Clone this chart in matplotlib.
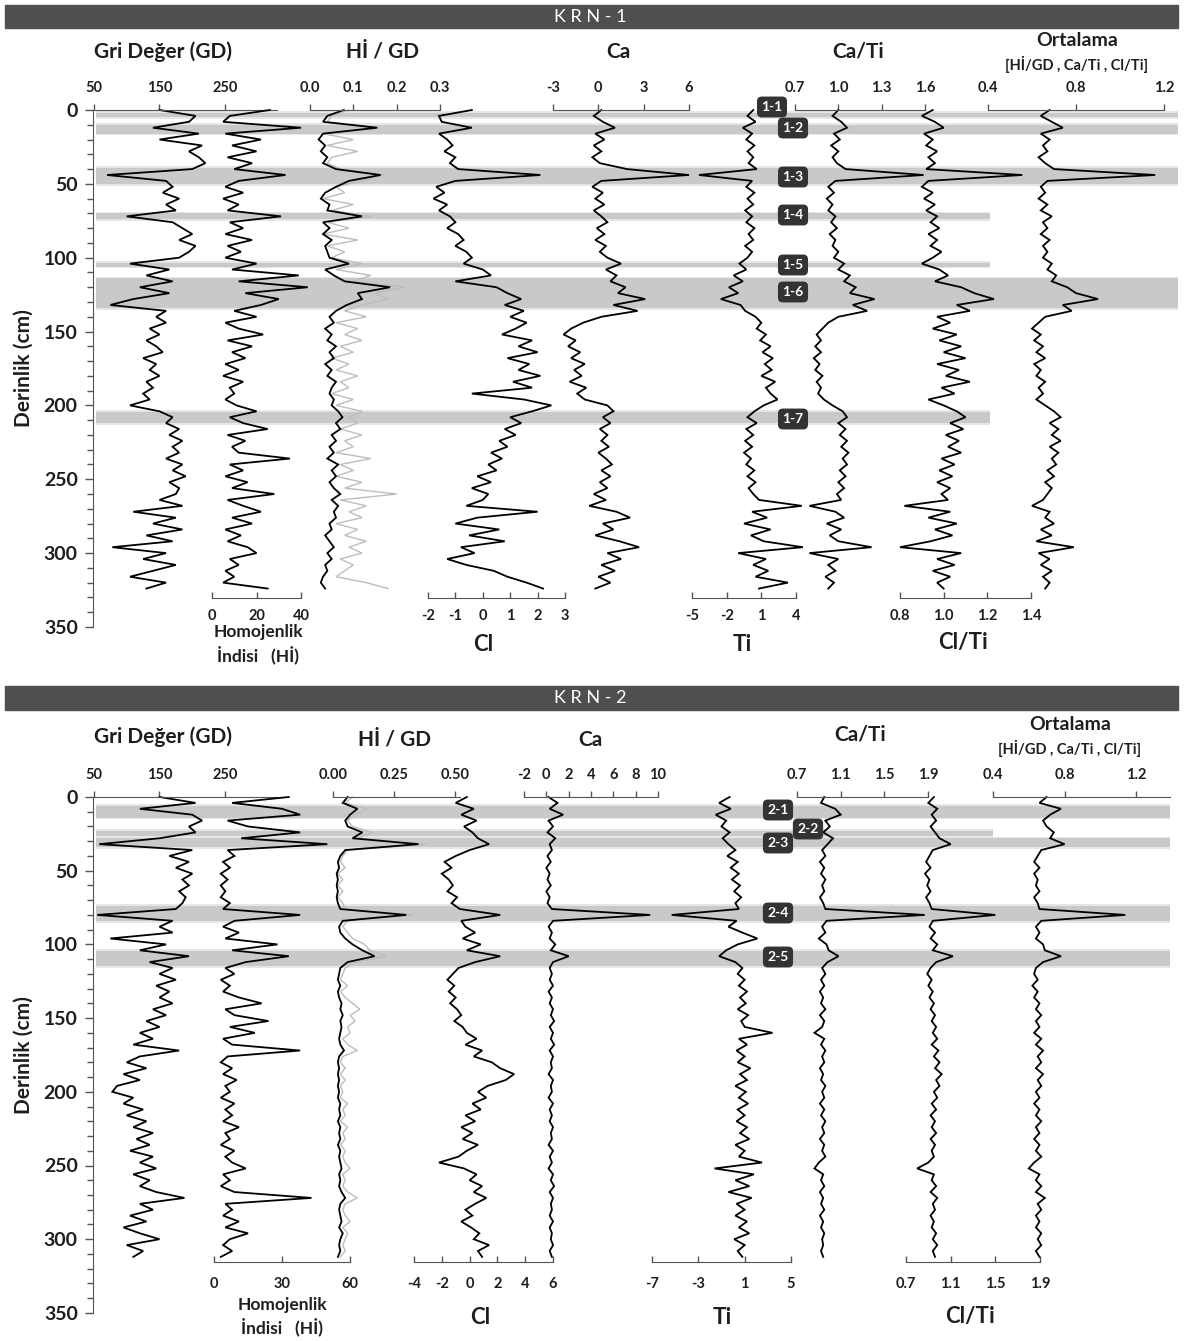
import numpy as np
import matplotlib.pyplot as plt
from matplotlib.patches import Rectangle
from matplotlib.ticker import FormatStrFormatter, MultipleLocator

plt.rcParams['font.family'] = ['Lato', 'DejaVu Sans']

W, H = 1185, 1341

# ---------------- KRN-1 data (one sample every 4 cm) ----------------
depth1 = np.arange(0, 325, 4)

gd1 = [150, 205, 195, 140, 210, 150, 215, 195, 210, 220,
       200, 70, 160, 170, 155, 180, 160, 175, 100, 170,
       185, 200, 180, 205, 195, 180, 105, 165, 130, 170,
       120, 165, 110, 75, 160, 145, 160, 135, 150, 130,
       145, 155, 125, 145, 135, 150, 130, 140, 125, 135,
       105, 150, 170, 160, 180, 165, 185, 170, 180, 160,
       185, 170, 190, 165, 180, 175, 150, 185, 110, 175,
       140, 185, 130, 170, 78, 160, 125, 175, 140, 105,
       160, 130]

hi1 = [26, 8, 5, 40, 6, 22, 9, 20, 7, 18,
       10, 33, 12, 6, 14, 5, 12, 7, 31, 8,
       14, 6, 18, 7, 13, 6, 20, 9, 39, 12,
       43, 15, 30, 22, 10, 20, 6, 12, 23, 7,
       18, 9, 15, 6, 12, 5, 14, 8, 10, 6,
       11, 20, 8, 14, 25, 7, 15, 9, 12, 35,
       8, 14, 6, 16, 9, 28, 7, 14, 22, 9,
       18, 6, 13, 7, 16, 20, 8, 12, 6, 10,
       5, 25]

higd1 = [0.078, 0.04, 0.03, 0.155, 0.03, 0.02, 0.035, 0.025, 0.04, 0.03,
         0.06, 0.163, 0.09, 0.06, 0.035, 0.025, 0.045, 0.04, 0.12, 0.03,
         0.045, 0.03, 0.05, 0.035, 0.04, 0.045, 0.09, 0.035, 0.055, 0.08,
         0.185, 0.11, 0.12, 0.085, 0.06, 0.045, 0.055, 0.035, 0.05, 0.04,
         0.06, 0.045, 0.055, 0.035, 0.05, 0.04, 0.06, 0.05, 0.045, 0.055,
         0.05, 0.065, 0.075, 0.06, 0.07, 0.05, 0.06, 0.045, 0.055, 0.04,
         0.065, 0.05, 0.06, 0.045, 0.055, 0.07, 0.05, 0.065, 0.055, 0.06,
         0.045, 0.05, 0.035, 0.045, 0.055, 0.04, 0.05, 0.035, 0.04, 0.03,
         0.025, 0.035]

higd1_raw = [0.09, 0.05, 0.04, 0.16, 0.03, 0.10, 0.04, 0.11, 0.05, 0.04,
             0.07, 0.17, 0.12, 0.06, 0.08, 0.03, 0.10, 0.05, 0.14, 0.04,
             0.09, 0.03, 0.11, 0.04, 0.08, 0.05, 0.12, 0.06, 0.14, 0.10,
             0.22, 0.15, 0.18, 0.12, 0.08, 0.13, 0.06, 0.11, 0.08, 0.12,
             0.07, 0.10, 0.05, 0.09, 0.06, 0.11, 0.07, 0.09, 0.05, 0.10,
             0.06, 0.12, 0.09, 0.11, 0.07, 0.12, 0.08, 0.10, 0.06, 0.14,
             0.07, 0.10, 0.06, 0.12, 0.08, 0.20, 0.07, 0.13, 0.09, 0.12,
             0.06, 0.11, 0.08, 0.13, 0.09, 0.12, 0.07, 0.10, 0.08, 0.06,
             0.13, 0.18]

cl1 = [-0.4, -1.6, -1.5, -0.4, -1.6, -1.3, -1.1, -1.4, -1.0, -1.2,
       -0.9, 2.1, -1.0, -1.7, -1.4, -1.8, -1.3, -1.6, -1.2, -1.0,
       -1.3, -0.9, -0.7, -1.0, -0.6, -0.4, -0.7, 0.0, 0.3, -1.0,
       0.5, 0.9, 1.4, 0.8, 1.5, 1.0, 1.6, 1.2, 0.7, 1.8,
       1.3, 2.0, 0.9, 1.7, 1.3, 2.1, 1.1, 1.8, -0.4, 1.5,
       2.5, 1.8, 1.0, 1.4, 0.8, 1.2, 0.6, 0.9, 0.3, 0.7,
       0.2, 0.5, -0.2, 0.3, -0.4, 0.2, 0.0, -0.6, 2.0, -0.2,
       -1.0, 0.6, -0.5, 0.8, -0.8, -0.3, -1.3, -0.6, 0.4, 0.9,
       1.6, 2.2]

ca1 = [0.2, -0.3, 0.3, 1.1, -0.2, 0.4, -0.3, 0.2, -0.4, 0.1,
       1.9, 6.0, 0.2, -0.4, 0.3, -0.2, 0.4, -0.3, 0.2, 0.6,
       -0.1, 0.4, -0.2, 0.5, 0.1, 0.6, 1.5, 0.5, 1.2, 0.8,
       1.8, 1.3, 3.1, 1.0, 2.6, 0.2, -1.0, -1.8, -2.3, -1.5,
       -2.0, -1.2, -1.8, -0.9, -1.6, -1.1, -1.9, -0.8, -1.4, -0.9,
       0.6, 1.0, 0.3, 0.8, 0.1, 0.6, 0.2, 0.7, 0.0, 0.5,
       0.9, 0.2, 0.8, 0.1, 0.6, -0.3, 0.5, -0.6, 1.2, 2.1,
       0.3, 1.0, -0.2, 1.4, 2.7, 0.6, 1.5, 0.2, 1.1, 0.0,
       0.8, -0.2]

ti1 = [0.3, -0.2, 0.5, -0.6, 0.2, -0.3, 0.4, -0.2, 0.3, -0.1,
       0.6, -4.4, 0.2, -0.3, 0.4, -0.2, 0.3, -0.4, 0.2, -0.3,
       0.4, -0.1, 0.3, -0.4, 0.2, -0.2, -0.9, -0.3, -1.4, -0.6,
       -1.8, -1.0, -2.5, -0.8, -0.4, 0.5, 1.0, 0.6, 1.4, 0.9,
       1.8, 1.1, 2.0, 1.3, 1.9, 1.0, 2.2, 1.4, 1.8, 2.4,
       1.2, 0.4, -0.2, 0.6, -0.3, 0.3, -0.4, 0.2, -0.5, 0.1,
       -0.3, 0.4, -0.2, 0.5, -0.1, 0.3, 0.8, 4.5, 0.2, 1.5,
       -0.5, 1.8, 0.1, 1.2, 4.6, -1.0, 1.4, 0.3, 1.6, 0.5,
       3.3, 0.8]

cati1 = [1.00, 0.96, 1.02, 1.06, 0.97, 1.01, 0.95, 1.00, 0.96, 0.99,
         1.05, 1.59, 0.98, 0.93, 0.97, 0.92, 0.96, 0.93, 0.98, 0.95,
         0.99, 0.94, 0.98, 0.96, 1.00, 0.97, 1.04, 1.00, 1.08, 1.04,
         1.12, 1.08, 1.25, 1.10, 1.20, 1.00, 0.93, 0.89, 0.85, 0.88,
         0.84, 0.88, 0.83, 0.87, 0.84, 0.89, 0.85, 0.88, 0.86, 0.90,
         0.96, 1.03, 1.06, 1.00, 1.05, 1.01, 1.06, 1.02, 1.07, 1.03,
         1.06, 1.01, 1.05, 1.00, 1.04, 0.99, 1.02, 0.80, 0.98, 1.04,
         0.92, 1.02, 0.94, 1.00, 1.23, 0.80, 1.00, 0.93, 0.98, 0.91,
         0.97, 0.93]

clti1 = [0.95, 0.90, 0.96, 1.00, 0.91, 0.95, 0.92, 0.97, 0.93, 0.96,
         0.92, 1.36, 0.93, 0.90, 0.95, 0.91, 0.96, 0.92, 0.97, 0.94,
         0.98, 0.93, 0.97, 0.94, 0.99, 0.95, 0.90, 0.98, 1.02, 0.96,
         1.08, 1.14, 1.23, 1.06, 1.12, 0.97, 1.03, 0.95, 1.06, 0.98,
         1.08, 1.00, 1.10, 0.97, 1.07, 1.01, 1.12, 0.99, 1.05, 0.93,
         1.00, 1.06, 1.10, 1.03, 1.09, 1.01, 1.07, 1.02, 1.08, 0.99,
         1.05, 0.98, 1.04, 0.97, 1.03, 0.99, 1.02, 0.82, 1.03, 0.93,
         1.06, 0.96, 1.04, 0.94, 0.80, 1.08, 0.97, 1.05, 0.95, 1.03,
         0.97, 1.00]

ort1 = [0.68, 0.64, 0.69, 0.74, 0.64, 0.68, 0.65, 0.67, 0.63, 0.66,
        0.70, 1.16, 0.67, 0.64, 0.66, 0.63, 0.67, 0.64, 0.69, 0.65,
        0.67, 0.64, 0.68, 0.65, 0.67, 0.65, 0.69, 0.67, 0.71, 0.69,
        0.76, 0.80, 0.90, 0.74, 0.78, 0.66, 0.63, 0.60, 0.64, 0.61,
        0.65, 0.62, 0.66, 0.61, 0.64, 0.62, 0.66, 0.63, 0.65, 0.62,
        0.66, 0.70, 0.73, 0.68, 0.72, 0.69, 0.73, 0.68, 0.72, 0.69,
        0.71, 0.67, 0.70, 0.66, 0.69, 0.67, 0.65, 0.60, 0.68, 0.66,
        0.70, 0.64, 0.69, 0.62, 0.79, 0.63, 0.68, 0.64, 0.69, 0.65,
        0.68, 0.66]

# ---------------- KRN-2 data (one sample every 4 cm) ----------------
depth2 = np.arange(0, 313, 4)

gd2 = [150, 205, 120, 200, 215, 195, 205, 150, 58, 200,
       165, 195, 175, 200, 185, 195, 180, 190, 185, 175,
       55, 170, 150, 170, 75, 160, 120, 195, 135, 170,
       150, 175, 145, 165, 150, 170, 140, 160, 130, 150,
       120, 140, 110, 180, 120, 100, 130, 95, 120, 85,
       78, 110, 95, 125, 100, 130, 110, 140, 115, 135,
       105, 140, 120, 145, 110, 135, 120, 145, 188, 120,
       140, 105, 130, 95, 120, 150, 100, 125, 110]

hi2 = [33, 8, 30, 38, 6, 15, 38, 12, 50, 6,
       9, 4, 7, 3, 6, 3, 5, 3, 7, 4,
       38, 9, 4, 11, 5, 28, 8, 33, 14, 5,
       9, 3, 7, 4, 11, 21, 5, 9, 24, 7,
       18, 4, 8, 38, 6, 3, 8, 4, 10, 5,
       7, 3, 9, 5, 8, 4, 11, 5, 7, 3,
       9, 5, 8, 14, 4, 7, 3, 9, 43, 5,
       8, 4, 11, 5, 15, 7, 4, 8, 3]

higd2 = [0.06, 0.04, 0.10, 0.07, 0.05, 0.06, 0.12, 0.08, 0.35, 0.05,
         0.03, 0.02, 0.025, 0.015, 0.02, 0.015, 0.02, 0.015, 0.02, 0.03,
         0.30, 0.04, 0.025, 0.03, 0.05, 0.08, 0.12, 0.17, 0.06, 0.03,
         0.025, 0.02, 0.03, 0.02, 0.025, 0.035, 0.03, 0.04, 0.03, 0.035,
         0.03, 0.025, 0.03, 0.045, 0.025, 0.02, 0.025, 0.02, 0.025, 0.02,
         0.025, 0.02, 0.03, 0.025, 0.03, 0.02, 0.03, 0.025, 0.03, 0.02,
         0.03, 0.025, 0.03, 0.035, 0.025, 0.03, 0.025, 0.035, 0.05, 0.03,
         0.025, 0.03, 0.035, 0.025, 0.04, 0.03, 0.025, 0.03, 0.02]

higd2_raw = [0.08, 0.05, 0.14, 0.09, 0.06, 0.08, 0.16, 0.10, 0.38, 0.06,
             0.04, 0.03, 0.05, 0.02, 0.04, 0.02, 0.04, 0.02, 0.04, 0.05,
             0.33, 0.06, 0.04, 0.06, 0.08, 0.13, 0.15, 0.22, 0.09, 0.05,
             0.04, 0.03, 0.06, 0.03, 0.05, 0.08, 0.11, 0.07, 0.09, 0.06,
             0.07, 0.04, 0.06, 0.10, 0.04, 0.03, 0.05, 0.03, 0.05, 0.03,
             0.04, 0.03, 0.06, 0.04, 0.05, 0.03, 0.06, 0.04, 0.05, 0.03,
             0.05, 0.04, 0.05, 0.07, 0.04, 0.05, 0.04, 0.06, 0.10, 0.05,
             0.04, 0.05, 0.07, 0.04, 0.06, 0.05, 0.04, 0.05, 0.03]

cl2 = [-0.2, -1.0, 0.3, -0.6, 0.5, -0.4, 0.2, 0.6, 1.4, 0.0,
       -1.0, -1.8, -1.3, -2.0, -1.5, -1.2, -1.6, -0.9, -1.3, -0.7,
       2.2, -0.6, -0.3, 0.4, -0.5, 0.8, -0.2, 2.2, 0.4, -0.8,
       -1.2, -1.6, -1.1, -1.5, -1.0, -1.4, -0.9, -0.6, -1.1, -0.5,
       -0.2, 0.5, -0.3, 0.9, 0.3, 1.6, 2.2, 3.2, 2.6, 1.3,
       0.6, 1.2, 0.2, 0.8, -0.3, 0.4, -0.6, 0.2, -0.5, 0.6,
       -0.2, -0.8, -2.2, -0.4, 0.5, 0.0, 0.9, 0.3, 1.2, 0.4,
       -0.3, 0.2, -0.6, 0.1, 0.7, 0.3, 1.4, 0.6, 0.9]

ca2 = [0.2, 1.0, 0.3, 1.5, 0.2, 0.6, 0.1, 0.8, 0.3, 0.5,
       0.1, 0.4, 0.0, 0.3, 0.1, 0.4, 0.0, 0.3, 0.1, 0.5,
       9.3, 0.6, 0.2, 0.5, 0.3, 0.8, 0.4, 2.0, 0.6, 0.3,
       0.5, 0.3, 0.6, 0.2, 0.5, 0.3, 0.6, 0.4, 0.7, 0.3,
       0.6, 0.4, 0.7, 0.3, 0.6, 0.4, 0.5, 0.2, 0.6, 0.4,
       0.5, 0.2, 0.6, 0.3, 0.5, 0.3, 0.6, 0.4, 0.5, 0.2,
       0.6, 0.3, 0.5, 0.2, 0.6, 0.4, 0.7, 0.3, 0.6, 0.4,
       0.5, 0.3, 0.6, 0.3, 0.5, 0.4, 0.6, 0.3, 0.5]

ti2 = [-0.3, -1.2, -0.2, -1.5, -0.6, -1.0, -0.3, -0.9, -0.4, 0.2,
       -0.5, 0.4, -0.2, 0.5, -0.1, 0.6, 0.1, 0.7, 0.2, 0.5,
       -5.3, 0.3, -0.4, 0.8, 2.1, 0.4, -0.6, -1.2, 0.2, 0.8,
       0.4, 1.0, 0.5, 1.2, 0.6, 1.1, 0.4, 1.3, 0.7, 1.0,
       3.4, 0.5, 1.2, 0.3, 1.0, 0.4, 1.5, 0.6, 1.2, 0.2,
       1.1, 0.5, 1.3, 0.4, 1.0, 0.3, 1.2, 0.6, 1.4, 0.2,
       1.0, 0.5, 2.5, -1.6, 1.8, 0.2, 1.4, -0.4, 1.6, 0.3,
       1.0, 0.2, 1.2, 0.5, 1.4, 0.1, 1.0, 0.4, 0.8]

cati2 = [0.95, 0.92, 1.05, 1.10, 0.96, 1.00, 0.94, 1.03, 0.98, 0.93,
         0.96, 0.91, 0.95, 0.92, 0.96, 0.93, 0.95, 0.91, 0.94, 0.96,
         1.87, 0.97, 0.93, 0.96, 0.90, 0.97, 0.99, 1.08, 0.98, 0.93,
         0.96, 0.92, 0.95, 0.91, 0.94, 0.92, 0.96, 0.91, 0.95, 0.93,
         0.86, 0.95, 0.92, 0.96, 0.93, 0.95, 0.91, 0.94, 0.92, 0.96,
         0.93, 0.95, 0.91, 0.95, 0.92, 0.96, 0.93, 0.95, 0.91, 0.95,
         0.93, 0.96, 0.90, 0.86, 0.94, 0.92, 0.95, 0.91, 0.94, 0.92,
         0.95, 0.91, 0.94, 0.92, 0.95, 0.93, 0.94, 0.92, 0.94]

clti2 = [0.95, 0.90, 0.98, 0.93, 0.97, 0.92, 0.96, 1.00, 1.10, 0.94,
         0.91, 0.88, 0.92, 0.87, 0.91, 0.89, 0.92, 0.88, 0.91, 0.93,
         1.50, 0.94, 0.91, 0.96, 0.92, 0.98, 0.94, 1.12, 0.97, 0.92,
         0.89, 0.93, 0.90, 0.94, 0.91, 0.95, 0.92, 0.96, 0.93, 0.97,
         0.94, 0.98, 0.93, 0.99, 0.95, 1.00, 0.96, 1.02, 0.97, 1.00,
         0.95, 0.98, 0.93, 0.97, 0.92, 0.96, 0.93, 0.97, 0.92, 0.96,
         0.93, 0.95, 0.90, 0.80, 0.95, 0.93, 0.97, 0.92, 0.98, 0.94,
         0.96, 0.92, 0.95, 0.93, 0.97, 0.94, 0.98, 0.94, 0.96]

ort2 = [0.70, 0.66, 0.78, 0.72, 0.68, 0.70, 0.74, 0.72, 0.80, 0.67,
        0.65, 0.63, 0.66, 0.63, 0.65, 0.64, 0.66, 0.63, 0.65, 0.66,
        1.14, 0.67, 0.64, 0.66, 0.64, 0.68, 0.69, 0.78, 0.68, 0.64,
        0.63, 0.65, 0.62, 0.65, 0.63, 0.66, 0.64, 0.67, 0.64, 0.66,
        0.63, 0.67, 0.64, 0.68, 0.65, 0.67, 0.64, 0.68, 0.65, 0.67,
        0.64, 0.66, 0.63, 0.66, 0.64, 0.67, 0.64, 0.66, 0.63, 0.66,
        0.64, 0.67, 0.63, 0.60, 0.66, 0.64, 0.67, 0.64, 0.69, 0.65,
        0.67, 0.64, 0.66, 0.64, 0.67, 0.65, 0.67, 0.64, 0.66]

# event layers: (label, top cm, bottom cm)
events1 = [('1-1', 2, 5), ('1-2', 10, 16), ('1-3', 39, 50), ('1-4', 70, 74),
           ('1-5', 103.5, 106), ('1-6', 114, 134), ('1-7', 204.5, 212)]
events2 = [('2-1', 6, 14), ('2-2', 23, 26.5), ('2-3', 28, 34),
           ('2-4', 74, 84), ('2-5', 104.5, 114.5)]

fig = plt.figure(figsize=(W / 100, H / 100), dpi=100)
fig.patch.set_facecolor('white')

TXT = '#1e1e1e'
AXC = '#555555'


def add_px_axes(left, right, top, bottom):
    return fig.add_axes([left / W, 1 - bottom / H, (right - left) / W, (bottom - top) / H])


def ftext(x, y, s, **kw):
    kw.setdefault('ha', 'center')
    kw.setdefault('va', 'center')
    kw.setdefault('color', TXT)
    return fig.text(x / W, 1 - y / H, s, **kw)


def title_bar(y0, y1, label):
    fig.patches.append(Rectangle((5 / W, 1 - y1 / H), (1178 - 5) / W, (y1 - y0) / H,
                                 transform=fig.transFigure, color='#4f4f4f', zorder=0))
    ftext(590, (y0 + y1) / 2, label, color='white', fontsize=13)


def depth_axis(y_top, y_350, bands, band_ends):
    bg = add_px_axes(93, 1178, y_top, y_350)
    bg.set_facecolor('none')
    bg.set_xlim(93, 1178)
    bg.set_ylim(350, 0)
    for s in ['top', 'right', 'bottom']:
        bg.spines[s].set_visible(False)
    bg.spines['left'].set_color(AXC)
    bg.set_xticks([])
    bg.set_yticks(np.arange(0, 351, 50))
    bg.yaxis.set_minor_locator(MultipleLocator(10))
    bg.tick_params(axis='y', which='major', length=6, width=1, color=AXC,
                   labelsize=14, pad=5, labelcolor=TXT)
    bg.tick_params(axis='y', which='minor', length=4, width=1, color=AXC)
    for lab in bg.get_yticklabels():
        lab.set_fontweight('bold')
    bg.set_ylabel('Derinlik (cm)', fontsize=15, fontweight='bold', color=TXT, labelpad=7)
    for (name, d0, d1), xe in zip(bands, band_ends):
        frac = (xe - 93) / (1178 - 93)
        bg.axhspan(d0 - 1.2, d1 + 1.2, xmin=0.003, xmax=frac, color='#e6e6e6', lw=0)
        bg.axhspan(d0, d1, xmin=0.003, xmax=frac, color='#c9c9c9', lw=0)
    return bg


def track(y_top, y_bot, d_bot, L, R, lo, hi, ticks, fmt, side, pad):
    ax = add_px_axes(L, R, y_top, y_bot)
    ax.set_facecolor('none')
    ax.set_xlim(lo, hi)
    ax.set_ylim(d_bot, 0)
    for s in ['left', 'right', 'top', 'bottom']:
        ax.spines[s].set_visible(s == side)
    ax.spines[side].set_color(AXC)
    ax.set_yticks([])
    ax.xaxis.set_ticks_position(side)
    ax.set_xticks(ticks)
    ax.xaxis.set_major_formatter(FormatStrFormatter(fmt))
    ax.tick_params(axis='x', direction='out' if side == 'top' else 'in', length=4,
                   width=1, color=AXC, labelsize=10.5, labelcolor=TXT, pad=pad)
    for lab in ax.get_xticklabels():
        lab.set_fontweight('bold')
    return ax


def curve(ax, x, d, color='black', lw=1.3):
    ax.plot(x, d, color=color, lw=lw, clip_on=False, solid_joinstyle='miter')


# ================= KRN-1 =================
title_bar(5, 28, 'K R N - 1')
y0, ya = 110, 598
ppc = 1.477
dbot = (ya - y0) / ppc
depth_axis(y0, y0 + 350 * ppc, events1, [1178, 1178, 1178, 990, 990, 1178, 990])

t_gd = track(y0, ya, dbot, 94, 277, 50, 329.4, [50, 150, 250], '%d', 'top', 7)
curve(t_gd, gd1, depth1)
t_hi = track(y0, ya, dbot, 212, 301, 0, 40, [0, 20, 40], '%d', 'bottom', 8)
curve(t_hi, hi1, depth1)
t_hg = track(y0, ya, dbot, 310, 440, 0, 0.3, [0, 0.1, 0.2, 0.3], '%.1f', 'top', 7)
curve(t_hg, higd1_raw, depth1, color='#bdbdbd', lw=1.0)
curve(t_hg, higd1, depth1)
t_cl = track(y0, ya, dbot, 428, 565, -2, 3, [-2, -1, 0, 1, 2, 3], '%d', 'bottom', 8)
curve(t_cl, cl1, depth1)
t_ca = track(y0, ya, dbot, 553, 689, -3, 6, [-3, 0, 3, 6], '%d', 'top', 7)
curve(t_ca, ca1, depth1)
t_ti = track(y0, ya, dbot, 692, 796, -5, 4, [-5, -2, 1, 4], '%d', 'bottom', 8)
curve(t_ti, ti1, depth1)
t_cati = track(y0, ya, dbot, 795, 925, 0.7, 1.6, [0.7, 1.0, 1.3, 1.6], '%.1f', 'top', 7)
curve(t_cati, cati1, depth1)
t_clti = track(y0, ya, dbot, 900, 1031, 0.8, 1.4, [0.8, 1.0, 1.2, 1.4], '%.1f', 'bottom', 8)
curve(t_clti, clti1, depth1)
t_ort = track(y0, ya, dbot, 988, 1164, 0.4, 1.2, [0.4, 0.8, 1.2], '%.1f', 'top', 7)
curve(t_ort, ort1, depth1)

ftext(163, 52, 'Gri Değer (GD)', fontsize=15, fontweight='bold')
ftext(383, 52, 'Hİ / GD', fontsize=15, fontweight='bold')
ftext(618, 52, 'Ca', fontsize=15, fontweight='bold')
ftext(858, 52, 'Ca/Ti', fontsize=15, fontweight='bold')
ftext(1077, 40, 'Ortalama', fontsize=14, fontweight='bold')
ftext(1077, 64, '[Hİ/GD , Ca/Ti , Cl/Ti]', fontsize=10.5, fontweight='bold')
ftext(258, 632, 'Homojenlik', fontsize=12.5, fontweight='bold')
ftext(258, 655, 'İndisi   (Hİ)', fontsize=12.5, fontweight='bold')
ftext(483, 645, 'Cl', fontsize=16, fontweight='bold')
ftext(742, 645, 'Ti', fontsize=16, fontweight='bold')
ftext(963, 643, 'Cl/Ti', fontsize=16, fontweight='bold')

box_pos1 = [(772, 107), (793, 128), (793, 177), (793, 215), (793, 265), (793, 292), (793, 419)]
for (name, d0, d1), (bx, by) in zip(events1, box_pos1):
    ftext(bx, by, name, color='white', fontsize=10, fontweight='bold', zorder=10,
          bbox=dict(boxstyle='round,pad=0.32,rounding_size=0.35', fc='#333333', ec='none'))

# ================= KRN-2 =================
title_bar(686, 710, 'K R N - 2')
y0, ya = 797, 1262
ppc = 1.474
dbot = (ya - y0) / ppc
depth_axis(y0, y0 + 350 * ppc, events2, [1170, 993, 1170, 1170, 1170])

t_gd = track(y0, ya, dbot, 94, 277, 50, 329.4, [50, 150, 250], '%d', 'top', 7)
curve(t_gd, gd2, depth2)
t_hi = track(y0, ya, dbot, 214, 350, 0, 60, [0, 30, 60], '%d', 'bottom', 11)
curve(t_hi, hi2, depth2)
t_hg = track(y0, ya, dbot, 333, 460, 0, 0.52, [0, 0.25, 0.5], '%.2f', 'top', 7)
curve(t_hg, higd2_raw, depth2, color='#bdbdbd', lw=1.0)
curve(t_hg, higd2, depth2)
t_cl = track(y0, ya, dbot, 414, 553, -4, 6, [-4, -2, 0, 2, 4, 6], '%d', 'bottom', 11)
curve(t_cl, cl2, depth2)
t_ca = track(y0, ya, dbot, 524, 658, -2, 10, [-2, 0, 2, 4, 6, 8, 10], '%d', 'top', 7)
curve(t_ca, ca2, depth2)
t_ti = track(y0, ya, dbot, 652, 791, -7, 5, [-7, -3, 1, 5], '%d', 'bottom', 11)
curve(t_ti, ti2, depth2)
t_cati = track(y0, ya, dbot, 797, 928, 0.7, 1.9, [0.7, 1.1, 1.5, 1.9], '%.1f', 'top', 7)
curve(t_cati, cati2, depth2)
t_clti = track(y0, ya, dbot, 906, 1040, 0.7, 1.9, [0.7, 1.1, 1.5, 1.9], '%.1f', 'bottom', 11)
curve(t_clti, clti2, depth2)
t_ort = track(y0, ya, dbot, 993, 1170, 0.4, 1.39, [0.4, 0.8, 1.2], '%.1f', 'top', 7)
curve(t_ort, ort2, depth2)

ftext(163, 737, 'Gri Değer (GD)', fontsize=15, fontweight='bold')
ftext(394, 740, 'Hİ / GD', fontsize=15, fontweight='bold')
ftext(590, 740, 'Ca', fontsize=15, fontweight='bold')
ftext(860, 735, 'Ca/Ti', fontsize=15, fontweight='bold')
ftext(1070, 725, 'Ortalama', fontsize=14, fontweight='bold')
ftext(1070, 748, '[Hİ/GD , Ca/Ti , Cl/Ti]', fontsize=10.5, fontweight='bold')
ftext(282, 1305, 'Homojenlik', fontsize=12.5, fontweight='bold')
ftext(282, 1327, 'İndisi   (Hİ)', fontsize=12.5, fontweight='bold')
ftext(480, 1318, 'Cl', fontsize=16, fontweight='bold')
ftext(722, 1318, 'Ti', fontsize=16, fontweight='bold')
ftext(970, 1316, 'Cl/Ti', fontsize=16, fontweight='bold')

box_pos2 = [(778, 810), (808, 829), (778, 843), (778, 913), (778, 957)]
for (name, d0, d1), (bx, by) in zip(events2, box_pos2):
    ftext(bx, by, name, color='white', fontsize=10, fontweight='bold', zorder=10,
          bbox=dict(boxstyle='round,pad=0.32,rounding_size=0.35', fc='#333333', ec='none'))

fig.savefig('out.png', dpi=100, facecolor='white')
